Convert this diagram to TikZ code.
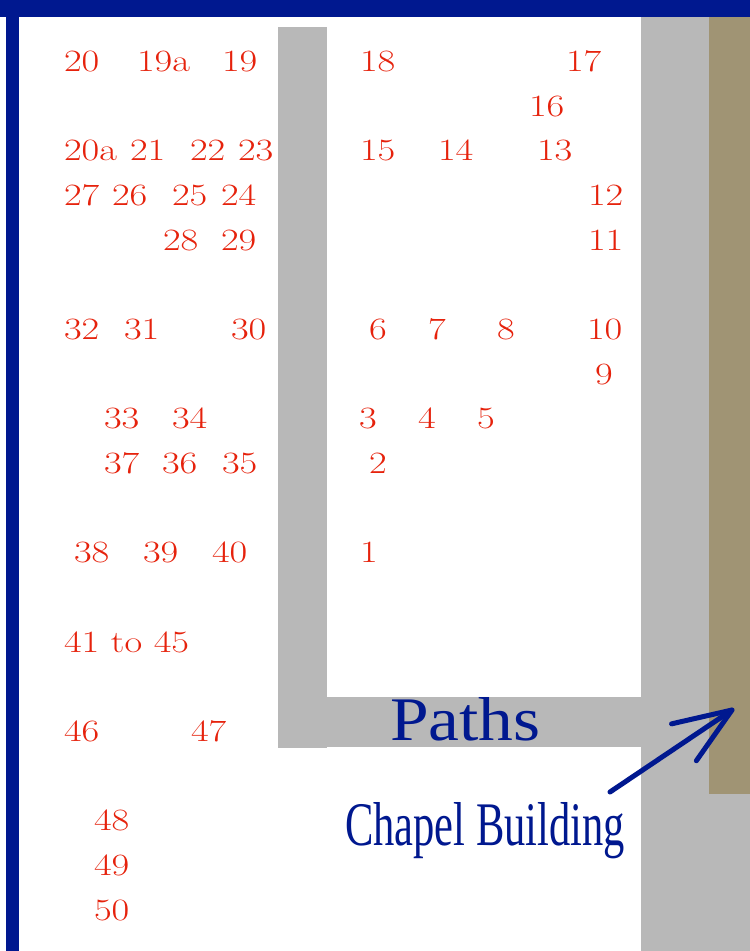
\documentclass[tikz,border=0pt]{standalone}
\usepackage{fontspec}
\newfontfamily\libser{Liberation Serif}
\usetikzlibrary{calc}
\definecolor{navy}{RGB}{0,24,143}
\definecolor{pathgray}{RGB}{184,184,184}
\definecolor{chapeltan}{RGB}{160,148,116}
\definecolor{numred}{RGB}{230,34,12}
\newcommand\wide[1]{\scalebox{1.24}[1]{#1}}
\begin{document}
\begin{tikzpicture}[x=1pt,y=-1pt,
  num/.style={anchor=base west,inner sep=0pt,outer sep=0pt,text=numred,font=\fontsize{31}{31}\selectfont},
  bigtext/.style={anchor=base west,inner sep=0pt,outer sep=0pt,text=navy,font=\libser\fontsize{62}{62}\selectfont},
  arrowline/.style={draw=navy,line width=5pt,line cap=round,line join=round}]
\useasboundingbox (0,0) rectangle (750,951);
\fill[white] (0,0) rectangle (750,951);
% paths
\fill[pathgray] (278,27) rectangle (327,748);
\fill[pathgray] (327,697) rectangle (641,747);
\fill[pathgray] (641,17) rectangle (750,951);
% chapel building
\fill[chapeltan] (709,17) rectangle (750,794);
% border
\fill[navy] (0,0) rectangle (750,17);
\fill[navy] (6,17) rectangle (19,951);
% numbers
\node[num] (n20) at (64,71) {\wide{20}};
\node[num] (n19a) at (137,71) {\wide{19a}};
\node[num] (n19) at (222,71) {\wide{19}};
\node[num] (n18) at (360,71) {\wide{18}};
\node[num] (n17) at (566,71) {\wide{17}};
\node[num] (n16) at (529,116) {\wide{16}};
\node[num] (n20a) at (64,160) {\wide{20a}};
\node[num] (n21) at (130,160) {\wide{21}};
\node[num] (n22) at (190,160) {\wide{22}};
\node[num] (n23) at (238,160) {\wide{23}};
\node[num] (n15) at (360,160) {\wide{15}};
\node[num] (n14) at (438,160) {\wide{14}};
\node[num] (n13) at (537,160) {\wide{13}};
\node[num] (n27) at (64,205) {\wide{27}};
\node[num] (n26) at (112,205) {\wide{26}};
\node[num] (n25) at (172,205) {\wide{25}};
\node[num] (n24) at (221,205) {\wide{24}};
\node[num] (n12) at (588,205) {\wide{12}};
\node[num] (n28) at (163,250) {\wide{28}};
\node[num] (n29) at (221,250) {\wide{29}};
\node[num] (n11) at (588,250) {\wide{11}};
\node[num] (n32) at (64,339) {\wide{32}};
\node[num] (n31) at (124,339) {\wide{31}};
\node[num] (n30) at (231,339) {\wide{30}};
\node[num] (n6) at (369,339) {\wide{6}};
\node[num] (n7) at (428,339) {\wide{7}};
\node[num] (n8) at (497,339) {\wide{8}};
\node[num] (n10) at (587,339) {\wide{10}};
\node[num] (n9) at (595,384) {\wide{9}};
\node[num] (n33) at (104,428) {\wide{33}};
\node[num] (n34) at (172,428) {\wide{34}};
\node[num] (n3) at (359,428) {\wide{3}};
\node[num] (n4) at (418,428) {\wide{4}};
\node[num] (n5) at (477,428) {\wide{5}};
\node[num] (n37) at (104,473) {\wide{37}};
\node[num] (n36) at (162,473) {\wide{36}};
\node[num] (n35) at (222,473) {\wide{35}};
\node[num] (n2) at (369,473) {\wide{2}};
\node[num] (n38) at (74,562) {\wide{38}};
\node[num] (n39) at (143,562) {\wide{39}};
\node[num] (n40) at (212,562) {\wide{40}};
\node[num] (n1) at (360,562) {\wide{1}};
\node[num] (n41) at (64,652) {\wide{41 to 45}};
\node[num] (n46) at (64,741) {\wide{46}};
\node[num] (n47) at (191,741) {\wide{47}};
\node[num] (n48) at (94,830) {\wide{48}};
\node[num] (n49) at (94,875) {\wide{49}};
\node[num] (n50) at (94,920) {\wide{50}};
% labels
\node[bigtext] (paths) at (390,740) {\scalebox{1.12}[1]{Paths}};
\node[bigtext] (chapel) at (345,845) {\scalebox{0.686}[1]{Chapel Building}};
% arrow
\coordinate (arrowstart) at (610,792);
\coordinate (arrowtip) at (732,710);
\draw[arrowline] (arrowstart) -- (arrowtip);
\draw[arrowline] ($(arrowtip)!62pt!21:(arrowstart)$) -- (arrowtip) -- ($(arrowtip)!62pt!-21:(arrowstart)$);
\end{tikzpicture}
\end{document}
